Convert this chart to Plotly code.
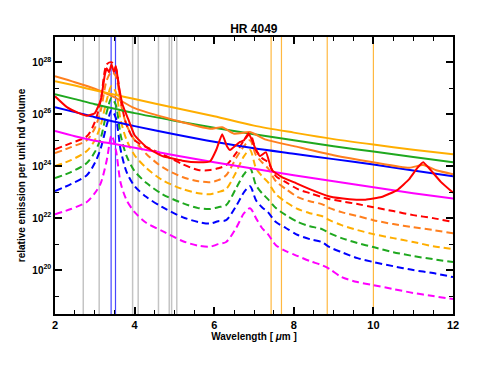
import plotly.graph_objects as go

# ---------------- data (log10 of relative emission) ----------------
x_dash = [2.0, 2.4, 2.8, 3.0, 3.15, 3.3, 3.42, 3.53, 3.65, 3.8, 4.0, 4.3, 4.7, 5.2, 5.6, 5.9,
          6.1, 6.3, 6.55, 6.75, 6.9, 7.05, 7.2, 7.35, 7.55, 7.8, 8.1, 8.4, 8.7, 8.9, 9.2, 9.6,
          10.0, 10.5, 11.0, 11.5, 12.0]

red_dash = [24.65, 24.885, 25.15, 25.69, 26.54, 27.92, 28.0, 27.77, 26.54, 25.58, 25.0, 24.73,
            24.46, 24.08, 23.85, 23.85, 23.92, 24.04, 24.5, 25.0, 25.23, 24.62, 24.31, 24.15,
            23.615, 23.385, 23.115, 22.96, 22.81, 22.73, 22.65, 22.54, 22.42, 22.27, 22.115,
            22.0, 21.85]
orange_dash = [24.5, 24.73, 25.0, 25.46, 26.15, 27.31, 27.615, 27.46, 26.42, 25.58, 25.0, 24.46,
               23.96, 23.58, 23.42, 23.385, 23.46, 23.65, 24.31, 24.77, 25.0, 24.42, 24.15, 23.92,
               23.42, 23.12, 22.81, 22.65, 22.54, 22.385, 22.23, 22.08, 21.92, 21.77, 21.65,
               21.54, 21.42]
gold_dash = [24.0, 24.23, 24.58, 25.0, 25.58, 26.54, 27.08, 26.85, 25.77, 25.0, 24.42, 23.92,
             23.46, 23.12, 22.96, 22.92, 23.0, 23.12, 23.77, 24.385, 24.62, 23.92, 23.62, 23.385,
             22.92, 22.62, 22.35, 22.19, 22.08, 21.92, 21.73, 21.54, 21.385, 21.23, 21.08,
             20.92, 20.81]
green_dash = [23.54, 23.77, 24.12, 24.54, 25.08, 26.08, 26.62, 26.35, 25.19, 24.385, 23.81, 23.35,
              22.92, 22.58, 22.385, 22.35, 22.42, 22.5, 23.15, 23.69, 23.92, 23.27, 22.96, 22.73,
              22.385, 22.115, 21.85, 21.69, 21.58, 21.42, 21.23, 21.04, 20.885, 20.69, 20.54,
              20.42, 20.31]
blue_dash = [23.04, 23.31, 23.65, 24.12, 24.69, 25.58, 26.15, 25.85, 24.62, 23.77, 23.23, 22.81,
             22.42, 22.04, 21.85, 21.79, 21.88, 21.92, 22.46, 23.0, 23.23, 22.69, 22.42, 22.23,
             21.85, 21.62, 21.35, 21.19, 21.08, 20.88, 20.69, 20.46, 20.31, 20.15, 20.0,
             19.885, 19.73]
magenta_dash = [22.15, 22.35, 22.62, 22.96, 23.35, 24.23, 25.19, 24.62, 23.35, 22.69, 22.23, 21.81,
                21.5, 21.12, 20.94, 20.90, 21.0, 21.08, 21.62, 22.19, 22.38, 22.0, 21.62, 21.385,
                20.96, 20.73, 20.54, 20.35, 20.19, 20.04, 19.73, 19.54, 19.42, 19.27, 19.12,
                19.0, 18.885]

x_cont = [2.0, 2.5, 3.0, 3.5, 4.0, 5.0, 6.0, 7.0, 8.0, 9.0, 10.0, 11.0, 12.0]
gold_solid = [27.27, 27.1, 26.92, 26.75, 26.58, 26.25, 25.92, 25.56, 25.29, 25.04, 24.83, 24.635, 24.46]
green_solid = [26.77, 26.58, 26.385, 26.21, 26.04, 25.75, 25.48, 25.23, 25.0, 24.77, 24.56, 24.35, 24.15]
blue_solid = [26.27, 26.08, 25.885, 25.71, 25.54, 25.23, 24.94, 24.69, 24.48, 24.27, 24.06, 23.83, 23.615]
magenta_solid = [25.35, 25.15, 24.98, 24.85, 24.71, 24.42, 24.15, 23.9, 23.65, 23.42, 23.19, 22.96, 22.75]

x_orange = [2.0, 2.5, 3.0, 3.5, 4.0, 5.0, 5.9, 6.2, 6.5, 6.9, 7.3, 8.0, 9.0, 10.0, 10.9, 11.25, 11.6, 12.0]
orange_solid = [27.46, 27.23, 26.98, 26.65, 26.23, 25.77, 25.44, 25.5, 25.25, 25.31, 25.02, 24.77,
                24.42, 24.15, 23.94, 24.04, 23.83, 23.69]

x_red = [2.0, 2.3, 2.6, 2.8, 3.0, 3.15, 3.25, 3.3, 3.36, 3.42, 3.48, 3.53, 3.6, 3.7, 3.85, 4.0,
         4.3, 4.7, 5.2, 5.6, 5.9, 6.05, 6.2, 6.32, 6.4, 6.55, 6.65, 6.75, 6.86, 6.95, 7.05, 7.15,
         7.3, 7.45, 7.7, 8.0, 8.4, 8.9, 9.4, 9.8, 10.2, 10.6, 10.9, 11.1, 11.25, 11.4, 11.7, 12.0]
red_solid = [26.69, 26.27, 26.04, 25.94, 26.04, 26.54, 27.5, 27.77, 27.615, 27.92, 27.615, 27.85,
             27.115, 26.35, 25.77, 25.19, 24.73, 24.385, 24.21, 24.15, 24.19, 24.62, 25.23, 24.77,
             24.62, 24.81, 24.93, 25.0, 25.27, 25.0, 24.62, 24.385, 24.54, 23.85, 23.58, 23.385,
             23.115, 22.83, 22.73, 22.71, 22.81, 23.08, 23.5, 23.92, 24.15, 23.92, 23.385, 22.98]

gray_lines = [2.71, 3.11, 3.95, 4.09, 4.60, 4.87, 4.93, 5.06]
blue_lines = [3.41, 3.52]
orange_lines = [7.43, 7.69, 8.84, 10.0]

RED = "#FF0000"
ORANGE = "#FF7F1E"
GOLD = "#FFAE00"
GREEN = "#1FA81F"
BLUE = "#0000FF"
MAGENTA = "#FF00FF"

fig = go.Figure()

def add(x, ylog, color, dash=None, smooth=0.8):
    fig.add_trace(go.Scatter(
        x=x, y=[10 ** v for v in ylog], mode="lines",
        line=dict(color=color, width=2, dash=dash, shape="spline", smoothing=smooth),
        hoverinfo="skip", showlegend=False))

DASH = "7px,4px"
for ys, c in [(magenta_dash, MAGENTA), (blue_dash, BLUE), (green_dash, GREEN),
              (gold_dash, GOLD), (orange_dash, ORANGE), (red_dash, RED)]:
    add(x_dash, ys, c, DASH)

add(x_cont, magenta_solid, MAGENTA)
add(x_cont, blue_solid, BLUE)
add(x_cont, green_solid, GREEN)
add(x_orange, orange_solid, ORANGE, smooth=0.6)
add(x_cont, gold_solid, GOLD)
add(x_red, red_solid, RED, smooth=0.35)

shapes = []
for xs, col, w in [(gray_lines, "#C4C4C4", 1.5), (blue_lines, "#4646FF", 1.2), (orange_lines, "#FFB840", 1.2)]:
    for xv in xs:
        shapes.append(dict(type="line", xref="x", yref="paper", x0=xv, x1=xv, y0=0, y1=1,
                           line=dict(color=col, width=w), layer="below"))

FONT = "Liberation Sans"
maj = [1e20, 1e22, 1e24, 1e26, 1e28]
fig.update_layout(
    width=491, height=379,
    margin=dict(l=55, r=38, t=37, b=65, autoexpand=False),
    paper_bgcolor="white", plot_bgcolor="white",
    shapes=shapes,
    font=dict(family=FONT, color="black", size=10, weight="bold"),
    title=dict(text="HR 4049", x=0.517, xanchor="center", y=0.925, yanchor="middle",
               font=dict(family=FONT, size=12, weight="bold")),
    hovermode=False,
    xaxis=dict(range=[2, 12], tickvals=[2, 4, 6, 8, 10, 12], ticks="inside", ticklen=7,
               tickwidth=1.5, tickcolor="black", showline=True, linewidth=1.5, linecolor="black",
               mirror="ticks", showgrid=False, zeroline=False, automargin=False,
               minor=dict(tickvals=[2.5, 3, 3.5, 4.5, 5, 5.5, 6.5, 7, 7.5, 8.5, 9, 9.5, 10.5, 11, 11.5],
                          ticks="inside", ticklen=4, tickwidth=1.2, tickcolor="black"),
               tickfont=dict(size=11, weight="bold"),
               title=dict(text="Wavelength [ <i>μ</i>m ]", standoff=3,
                          font=dict(size=10, weight="bold"))),
    yaxis=dict(type="log", range=[18.31, 28.97], tickvals=maj,
               ticktext=["10<sup>20</sup>", "10<sup>22</sup>", "10<sup>24</sup>", "10<sup>26</sup>", "10<sup>28</sup>"],
               ticks="inside", ticklen=7, tickwidth=1.5, tickcolor="black",
               showline=True, linewidth=1.5, linecolor="black", mirror="ticks",
               showgrid=False, zeroline=False, automargin=False,
               minor=dict(tickvals=[1e19, 1e21, 1e23, 1e25, 1e27], ticks="inside", ticklen=4,
                          tickwidth=1.2, tickcolor="black"),
               tickfont=dict(size=10, weight="bold"),
               title=dict(text="relative emission per unit nd volume", standoff=5,
                          font=dict(size=10, weight="bold"))),
)

fig.write_html("out.html", config={"displayModeBar": False},
               post_script="document.body.style.margin='0';document.body.style.overflow='hidden';")
